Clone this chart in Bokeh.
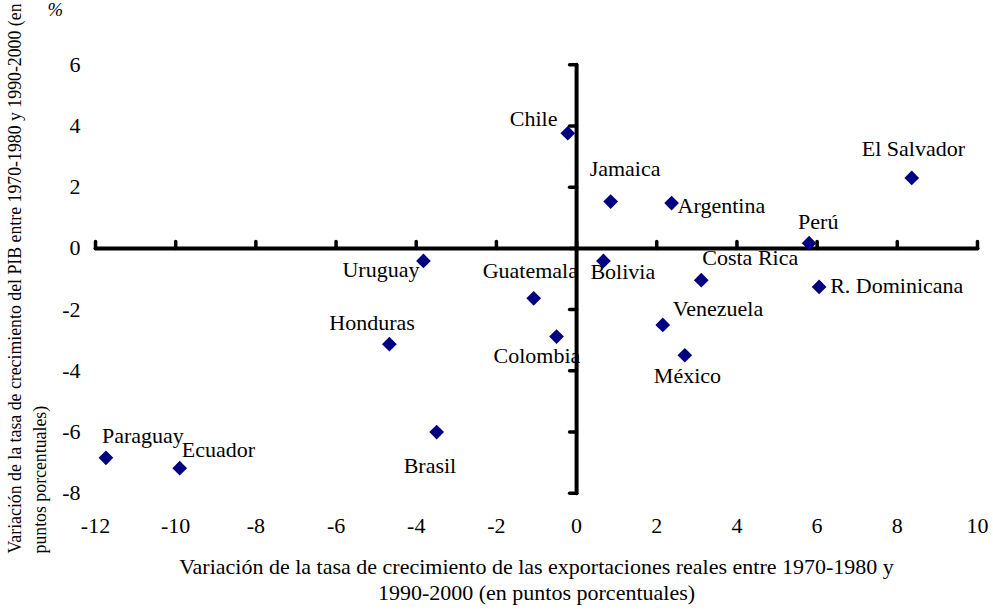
import math
from bokeh.plotting import figure
from bokeh.models import Range1d, FixedTicker, ColumnDataSource, Title
from bokeh.core.properties import value
from bokeh.embed import file_html
from bokeh.resources import INLINE

# ---- data ----
countries = ["Chile", "Jamaica", "Argentina", "Perú", "El Salvador", "Costa Rica",
             "Bolivia", "Guatemala", "Uruguay", "Colombia", "Venezuela", "México",
             "R. Dominicana", "Honduras", "Brasil", "Paraguay", "Ecuador"]
export_change = [-0.22, 0.85, 2.37, 5.80, 8.36, 3.11, 0.67, -1.07, -3.82, -0.50,
                 2.15, 2.70, 6.05, -4.67, -3.49, -11.74, -9.90]
gdp_change = [3.76, 1.53, 1.48, 0.17, 2.30, -1.04, -0.41, -1.63, -0.41, -2.88,
              -2.50, -3.49, -1.26, -3.13, -6.00, -6.84, -7.18]
x_ticks = [-12, -10, -8, -6, -4, -2, 0, 2, 4, 6, 8, 10]
y_ticks = [-8, -6, -4, -2, 0, 2, 4, 6]

x_title = ("Variación de la tasa de crecimiento de las exportaciones reales entre 1970-1980 y\n"
           "1990-2000 (en puntos porcentuales)")
y_title_1 = "Variación de la tasa de crecimiento del PIB  entre 1970-1980 y 1990-2000 (en"
y_title_2 = "puntos porcentuales)"
unit_text = "%"

# ---- label placement (screen pixel offsets, layout only) ----
label_dx = [-58, -21, 6, -11, -50, 1, -13, -51, -81, -63, 10, -31, 11, -60, -33, -4, 2]
label_dy = [-15, -33, 2, -22, -29, -23, 11, -28, 9, 19, -16, 20, -1, -22, 33, -22, -19]

FONT = "Liberation Serif"
FS = "22px"

# frame: x -12.25..10.25 over 902 px; y spans down to -8.3 with 30.616 px/unit
PX_PER_Y = 447 / 14.6
FRAME_L, FRAME_T, FRAME_W = 85, 15, 902
XR = (x_ticks[0] - 0.25, x_ticks[-1] + 0.25)
Y_TOP = y_ticks[-1] + 0.3 + (55 - FRAME_T) / PX_PER_Y
YR = (y_ticks[0] - 0.3, Y_TOP)
FRAME_H = round((YR[1] - YR[0]) * PX_PER_Y)

src = ColumnDataSource(dict(x=export_change, y=gdp_change, name=countries,
                            dx=label_dx, dy=label_dy))

p = figure(frame_width=FRAME_W, frame_height=FRAME_H,
           x_range=Range1d(*XR), y_range=Range1d(*YR),
           output_backend="svg", toolbar_location=None,
           min_border_left=FRAME_L, min_border_right=4, min_border_top=FRAME_T,
           min_border_bottom=104)
p.outline_line_color = None
p.grid.visible = False
p.background_fill_color = "white"
p.border_fill_color = "white"

for ax in (p.xaxis[0], p.yaxis[0]):
    ax.axis_line_color = None
    ax.major_tick_line_color = None
    ax.minor_tick_line_color = None
    ax.major_tick_out = 0
    ax.major_tick_in = 0
    ax.major_label_text_font = FONT
    ax.major_label_text_font_size = FS
    ax.major_label_text_color = "black"

p.xaxis.ticker = FixedTicker(ticks=x_ticks)
p.yaxis.ticker = FixedTicker(ticks=y_ticks)
p.xaxis.major_label_overrides = {t: str(t) for t in x_ticks}
p.yaxis.major_label_overrides = {t: str(t) for t in y_ticks}
p.xaxis.major_label_standoff = 16
p.yaxis.major_label_standoff = 5

p.xaxis.axis_label = x_title
p.xaxis.axis_label_text_font = FONT
p.xaxis.axis_label_text_font_size = FS
p.xaxis.axis_label_text_font_style = "normal"
p.xaxis.axis_label_text_color = "black"
p.xaxis.axis_label_text_line_height = 1.07
p.xaxis.axis_label_standoff = 18

# crossing axes through the origin
p.segment(x0=[x_ticks[0]], y0=[0], x1=[x_ticks[-1]], y1=[0],
          line_color="black", line_width=4, line_cap="round")
p.segment(x0=[0], y0=[y_ticks[0]], x1=[0], y1=[y_ticks[-1]],
          line_color="black", line_width=4, line_cap="round")
p.ray(x=x_ticks, y=[0] * len(x_ticks), length=7, length_units="screen",
      angle=math.pi / 2, line_color="black", line_width=3.5, line_cap="round")
p.ray(x=[0] * len(y_ticks), y=y_ticks, length=7, length_units="screen",
      angle=math.pi, line_color="black", line_width=3.5, line_cap="round")

# points
p.scatter("x", "y", source=src, marker="square", angle=math.pi / 4, size=10.4,
          fill_color="#000080", line_color=None)

# point labels
p.text("x", "y", text="name", source=src, x_offset="dx", y_offset="dy",
       text_font=value(FONT), text_font_size=value(FS), text_color="black",
       text_align="left", text_baseline="alphabetic")

# y-axis title: two left-aligned vertical lines (line 2 nearer the plot)
for txt, so in ((y_title_2, 20), (y_title_1, -14)):
    p.add_layout(Title(text=txt, align="left", offset=-51, standoff=so,
                       text_font=FONT, text_font_size="17.8px",
                       text_font_style="normal", text_color="black"), "left")

# unit sign above the axis
p.add_layout(Title(text=unit_text, align="left", offset=-38, standoff=-8,
                   text_font=FONT, text_font_size="18.7px",
                   text_font_style="italic", text_color="black"), "above")

open("out.html", "w").write(file_html(p, INLINE))
